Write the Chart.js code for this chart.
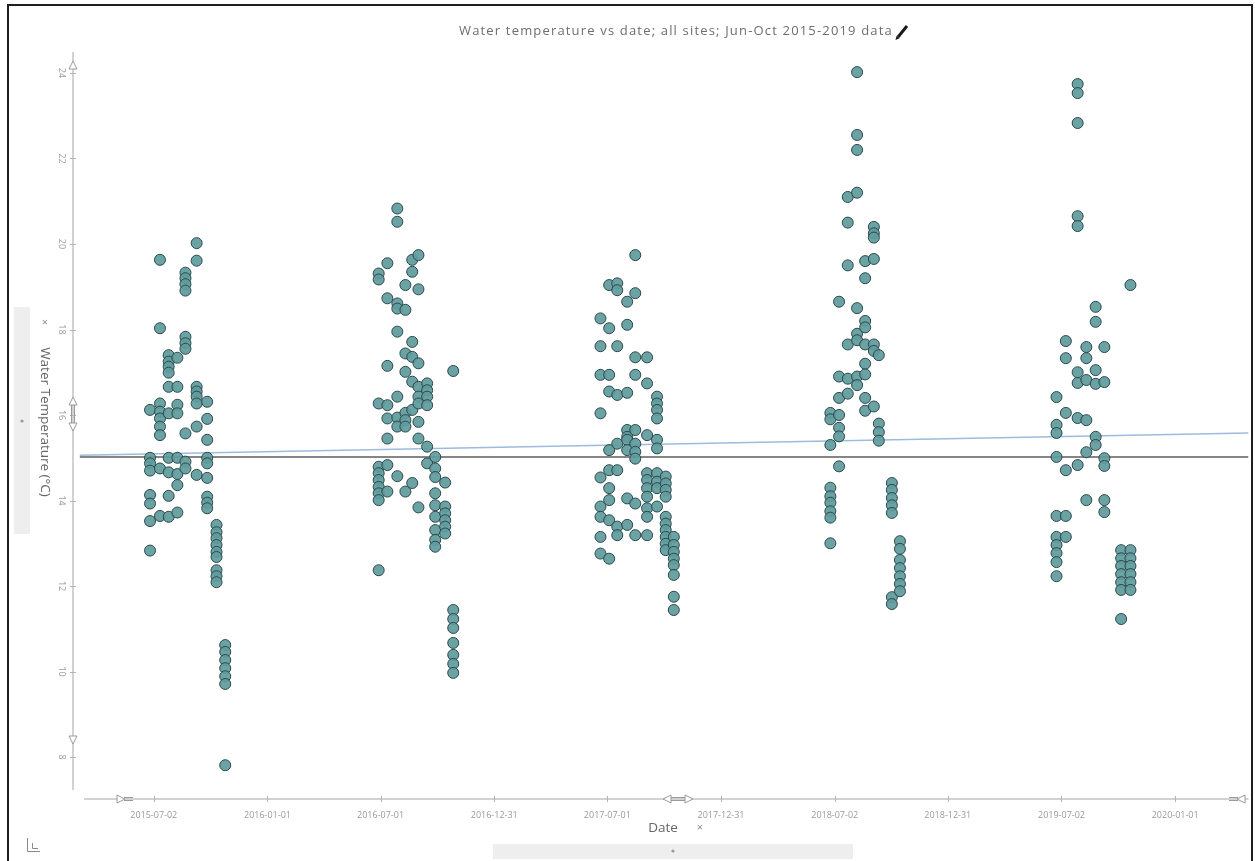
<!DOCTYPE html>
<html>
<head>
<meta charset="utf-8">
<script src="https://cdn.jsdelivr.net/npm/chart.js@4.4.1/dist/chart.umd.min.js"></script>
<style>
  html, body { margin: 0; padding: 0; background: #ffffff; }
  #wrap { position: relative; width: 1255px; height: 861px; }
  canvas { display: block; }
</style>
</head>
<body>
<div id="wrap"><canvas id="chart" width="1255" height="861"></canvas></div>
<script>
// Water temperature samples, grouped by sampling date (one inner list per date, all sites)
const sampleDates2015 = ['2015-06-26', '2015-07-12', '2015-07-26', '2015-08-09', '2015-08-22',
                         '2015-09-09', '2015-09-26', '2015-10-11', '2015-10-25'];
const temps2015 = [
  [16.12, 15.0, 14.87, 14.70, 14.13, 13.93, 13.52, 12.83],
  [19.63, 18.03, 16.27, 16.08, 15.92, 15.73, 15.53, 14.75, 13.64],
  [17.40, 17.25, 17.13, 16.99, 16.66, 16.04, 15.0, 14.66, 14.11, 13.62],
  [17.34, 16.66, 16.24, 16.04, 15.0, 14.62, 14.36, 13.72],
  [19.33, 19.20, 19.06, 18.91, 17.83, 17.68, 17.55, 15.57, 14.91, 14.75],
  [20.02, 19.61, 16.66, 16.55, 16.43, 16.27, 15.73, 14.60],
  [16.31, 15.91, 15.42, 15.0, 14.87, 14.53, 14.09, 13.95, 13.82],
  [13.43, 13.26, 13.12, 12.96, 12.80, 12.68, 12.37, 12.23, 12.09],
  [10.62, 10.46, 10.27, 10.08, 9.89, 9.71, 7.81]
];

const sampleDates2016 = ['2016-06-28', '2016-07-12', '2016-07-28', '2016-08-10', '2016-08-21',
                         '2016-08-31', '2016-09-14', '2016-09-27', '2016-10-13', '2016-10-26'];
const temps2016 = [
  [19.31, 19.17, 16.27, 14.79, 14.64, 14.48, 14.32, 14.17, 14.01, 12.37],
  [19.55, 18.73, 17.15, 16.23, 15.92, 15.45, 14.83, 14.21],
  [20.83, 20.52, 18.61, 18.49, 17.95, 16.43, 15.94, 15.73, 14.57],
  [19.04, 18.46, 17.44, 17.01, 16.05, 15.88, 15.73, 14.21],
  [19.63, 19.35, 17.71, 17.36, 16.78, 16.12, 14.41],
  [19.74, 18.94, 17.21, 16.66, 16.43, 16.27, 15.84, 15.45, 13.84],
  [16.74, 16.58, 16.43, 16.23, 15.26, 14.87],
  [15.02, 14.75, 14.55, 14.17, 13.89, 13.62, 13.31, 13.08, 12.92],
  [14.42, 13.86, 13.70, 13.54, 13.39, 13.23],
  [17.03, 11.44, 11.23, 11.02, 10.67, 10.39, 10.18, 9.97]
];

const sampleDates2017 = ['2017-06-20', '2017-07-04', '2017-07-17', '2017-08-02', '2017-08-15',
                         '2017-09-03', '2017-09-19', '2017-10-03', '2017-10-16'];
const temps2017 = [
  [18.26, 17.61, 16.94, 16.04, 14.54, 13.86, 13.62, 13.15, 12.76],
  [19.04, 18.03, 16.94, 16.55, 15.18, 14.71, 14.29, 14.01, 13.54, 12.64],
  [19.08, 18.92, 17.61, 16.47, 15.33, 14.71, 13.39, 13.19],
  [18.65, 18.11, 16.52, 15.65, 15.49, 15.42, 15.18, 14.05, 13.43],
  [19.74, 18.85, 17.35, 16.94, 15.65, 15.33, 15.14, 14.98, 13.93, 13.19],
  [17.35, 16.74, 15.53, 14.64, 14.48, 14.29, 14.09, 13.82, 13.62, 13.19],
  [16.43, 16.27, 16.12, 15.92, 15.42, 15.22, 14.64, 14.44, 14.29, 13.86],
  [14.56, 14.40, 14.25, 14.09, 13.62, 13.46, 13.31, 13.15, 12.99, 12.84],
  [13.15, 12.96, 12.80, 12.64, 12.49, 12.26, 11.75, 11.44]
];

const sampleDates2018 = ['2018-06-25', '2018-07-09', '2018-07-23', '2018-08-07', '2018-08-20',
                         '2018-09-03', '2018-09-11', '2018-10-02', '2018-10-15'];
const temps2018 = [
  [16.05, 15.90, 15.30, 14.30, 14.10, 13.95, 13.75, 13.60, 13.00],
  [18.65, 16.90, 16.40, 16.00, 15.70, 15.50, 14.80],
  [21.10, 20.50, 19.50, 17.65, 16.85, 16.50],
  [24.02, 22.55, 22.20, 21.20, 18.50, 17.90, 17.75, 16.90, 16.70],
  [19.60, 19.20, 18.20, 18.05, 17.65, 17.20, 16.95, 16.40, 16.10],
  [20.40, 20.25, 20.15, 19.65, 17.65, 17.50, 16.20],
  [17.40, 15.80, 15.60, 15.40],
  [14.41, 14.25, 14.06, 13.89, 13.71, 11.74, 11.58],
  [13.05, 12.87, 12.61, 12.42, 12.23, 12.05, 11.88]
];

const sampleDates2019 = ['2019-06-24', '2019-07-09', '2019-07-28', '2019-08-11', '2019-08-26',
                         '2019-09-09', '2019-10-06', '2019-10-21'];
const temps2019 = [
  [16.42, 15.77, 15.58, 15.02, 13.64, 13.15, 12.96, 12.77, 12.56, 12.23],
  [17.73, 17.33, 16.05, 14.71, 13.64, 13.15],
  [23.74, 23.53, 22.83, 20.65, 20.42, 17.00, 16.75, 15.93, 14.83],
  [17.59, 17.33, 16.82, 15.88, 15.13, 14.01],
  [18.53, 18.18, 17.05, 16.73, 15.49, 15.30],
  [17.59, 16.77, 14.99, 14.81, 14.01, 13.73],
  [12.84, 12.65, 12.47, 12.28, 12.09, 11.91, 11.23],
  [19.04, 12.84, 12.65, 12.47, 12.28, 12.09, 11.91]
];

// Reference lines: overall mean and linear trend
const meanLineDates = ['2015-03-05', '2020-04-28'];
const meanLineTemps = [15.02, 15.02];
const trendLineDates = ['2015-03-05', '2020-04-28'];
const trendLineTemps = [15.06, 15.58];

// Axis ticks and ranges
const tickDates = ['2015-07-02', '2016-01-01', '2016-07-01', '2016-12-31', '2017-07-01',
                   '2017-12-31', '2018-07-02', '2018-12-31', '2019-07-02', '2020-01-01'];
const tempTicks = [8, 10, 12, 14, 16, 18, 20, 22, 24];
const dateRange = ['2015-02-22', '2020-04-28'];
const tempRange = [7.02, 24.35];

const chartTitle = 'Water temperature vs date; all sites; Jun-Oct 2015-2019 data';
const xTitle = 'Date';
const yTitle = 'Water Temperature (°C)';

// ---- helpers ----
const DAY_MS = 86400000;
const toDay = s => Date.parse(s + 'T00:00:00Z') / DAY_MS;
const fmtDay = d => new Date(Math.round(d) * DAY_MS).toISOString().slice(0, 10);

function samplesToPoints(dates, temps) {
  const out = [];
  dates.forEach((d, i) => temps[i].forEach(t => out.push({ x: toDay(d), y: t })));
  return out;
}
const allPoints = [].concat(
  samplesToPoints(sampleDates2015, temps2015),
  samplesToPoints(sampleDates2016, temps2016),
  samplesToPoints(sampleDates2017, temps2017),
  samplesToPoints(sampleDates2018, temps2018),
  samplesToPoints(sampleDates2019, temps2019)
);
const linePoints = (dates, vals) => dates.map((d, i) => ({ x: toDay(d), y: vals[i] }));

// ---- decorations: axis lines, handles, rotated labels, titles, frame ----
const AXIS_COLOR = '#c4c4c4';
const HANDLE_COLOR = '#9a9a9a';

function tri(ctx, pts) {
  ctx.beginPath();
  ctx.moveTo(pts[0][0], pts[0][1]);
  ctx.lineTo(pts[1][0], pts[1][1]);
  ctx.lineTo(pts[2][0], pts[2][1]);
  ctx.closePath();
  ctx.fillStyle = '#ffffff';
  ctx.fill();
  ctx.stroke();
}

const decor = {
  id: 'decor',
  beforeDatasetsDraw(chart) {
    const ctx = chart.ctx;
    const area = chart.chartArea;
    const xs = chart.scales.x, ys = chart.scales.y;
    ctx.save();
    // axis lines
    ctx.strokeStyle = AXIS_COLOR;
    ctx.lineWidth = 1.5;
    ctx.beginPath();
    ctx.moveTo(area.left, area.top - 6);
    ctx.lineTo(area.left, area.bottom - 9);
    ctx.moveTo(area.left + 11, area.bottom);
    ctx.lineTo(area.right, area.bottom);
    ctx.stroke();
    // tick marks
    ctx.lineWidth = 1;
    ctx.strokeStyle = '#b5b5b5';
    ctx.beginPath();
    ys.ticks.forEach(t => {
      const py = Math.round(ys.getPixelForValue(t.value)) + 0.5;
      ctx.moveTo(area.left - 3, py);
      ctx.lineTo(area.left + 3, py);
    });
    xs.ticks.forEach(t => {
      const px = Math.round(xs.getPixelForValue(t.value)) + 0.5;
      ctx.moveTo(px, area.bottom - 3);
      ctx.lineTo(px, area.bottom + 3);
    });
    ctx.stroke();
    // y tick labels, rotated to read downwards
    ctx.fillStyle = '#9a9a9a';
    ctx.font = '9px "Open Sans"';
    ctx.textAlign = 'center';
    ctx.textBaseline = 'middle';
    ys.ticks.forEach(t => {
      const py = ys.getPixelForValue(t.value);
      ctx.save();
      ctx.translate(area.left - 11, py);
      ctx.rotate(Math.PI / 2);
      ctx.fillText(String(t.value), 0, 0);
      ctx.restore();
    });
    // range handles on the axes
    ctx.strokeStyle = HANDLE_COLOR;
    ctx.lineWidth = 1;
    const L = area.left, B = area.bottom;
    tri(ctx, [[L, area.top + 3], [L - 4, area.top + 11], [L + 4, area.top + 11]]);
    tri(ctx, [[L, 744], [L - 4, 736], [L + 4, 736]]);
    ctx.beginPath();
    ctx.moveTo(L - 1.5, 405); ctx.lineTo(L - 1.5, 423);
    ctx.moveTo(L + 1.5, 405); ctx.lineTo(L + 1.5, 423);
    ctx.stroke();
    tri(ctx, [[L, 397], [L - 4, 405], [L + 4, 405]]);
    tri(ctx, [[L, 431], [L - 4, 423], [L + 4, 423]]);
    // x handles
    ctx.beginPath();
    ctx.moveTo(124, B - 1.5); ctx.lineTo(133, B - 1.5);
    ctx.moveTo(124, B + 1.5); ctx.lineTo(133, B + 1.5);
    ctx.moveTo(671, B - 1.5); ctx.lineTo(685, B - 1.5);
    ctx.moveTo(671, B + 1.5); ctx.lineTo(685, B + 1.5);
    ctx.moveTo(1229, B - 1.5); ctx.lineTo(1238, B - 1.5);
    ctx.moveTo(1229, B + 1.5); ctx.lineTo(1238, B + 1.5);
    ctx.stroke();
    tri(ctx, [[125, B], [117, B - 4], [117, B + 4]]);
    tri(ctx, [[663, B], [671, B - 4], [671, B + 4]]);
    tri(ctx, [[693, B], [685, B - 4], [685, B + 4]]);
    tri(ctx, [[1237, B], [1245, B - 4], [1245, B + 4]]);
    ctx.restore();
  },
  afterDraw(chart) {
    const ctx = chart.ctx;
    ctx.save();
    // chart title with edit pencil
    ctx.fillStyle = '#6e6e6e';
    ctx.font = '13px "Open Sans"';
    ctx.textBaseline = 'middle';
    ctx.textAlign = 'left';
    const w = ctx.measureText(chartTitle).width;
    const targetW = 434;
    ctx.letterSpacing = Math.max(0, (targetW - w) / chartTitle.length).toFixed(2) + 'px';
    ctx.fillText(chartTitle, 459, 31);
    ctx.letterSpacing = '0px';
    ctx.strokeStyle = '#1a1a1a';
    ctx.lineWidth = 3;
    ctx.lineCap = 'butt';
    ctx.beginPath();
    ctx.moveTo(898, 37); ctx.lineTo(907, 26);
    ctx.stroke();
    ctx.fillStyle = '#1a1a1a';
    ctx.beginPath();
    ctx.moveTo(895.5, 40); ctx.lineTo(896.6, 35.8); ctx.lineTo(899.6, 38.3); ctx.closePath();
    ctx.fill();

    // side and bottom sliders
    ctx.fillStyle = '#eeeeee';
    ctx.fillRect(14, 307, 16, 227);
    ctx.fillRect(493, 844, 360, 15);
    ctx.fillStyle = '#9a9a9a';
    ctx.beginPath(); ctx.arc(22, 421, 1.6, 0, Math.PI * 2); ctx.fill();
    ctx.beginPath(); ctx.arc(673, 851, 1.6, 0, Math.PI * 2); ctx.fill();

    // y axis title, reading downwards
    ctx.fillStyle = '#666666';
    ctx.font = '13.5px "Open Sans"';
    ctx.textAlign = 'center';
    ctx.textBaseline = 'middle';
    ctx.save();
    ctx.translate(45, 422);
    ctx.rotate(Math.PI / 2);
    ctx.fillText(yTitle, 0, 0);
    ctx.restore();
    ctx.fillStyle = '#8a8a8a';
    ctx.font = '11px "Open Sans"';
    ctx.fillText('×', 45, 323);

    // x axis title
    ctx.fillStyle = '#666666';
    ctx.font = '13.5px "Open Sans"';
    ctx.fillText(xTitle, 663, 828);
    ctx.fillStyle = '#8a8a8a';
    ctx.font = '11px "Open Sans"';
    ctx.fillText('×', 700, 828);

    // axes-reset icon, bottom left
    ctx.strokeStyle = '#8a8a8a';
    ctx.lineWidth = 1;
    ctx.beginPath();
    ctx.moveTo(27.5, 838); ctx.lineTo(27.5, 851.5); ctx.lineTo(40, 851.5);
    ctx.moveTo(32.5, 843); ctx.lineTo(32.5, 848.5); ctx.lineTo(38, 848.5);
    ctx.stroke();

    // outer frame
    ctx.strokeStyle = '#1e1e1e';
    ctx.lineWidth = 2;
    ctx.strokeRect(8, 5, 1244, 900);
    ctx.restore();
  }
};

new Chart(document.getElementById('chart').getContext('2d'), {
  type: 'scatter',
  data: {
    datasets: [
      {
        label: 'Water temperature',
        data: allPoints,
        backgroundColor: 'rgba(96,156,158,0.93)',
        borderColor: '#2b4849',
        borderWidth: 1,
        pointRadius: 5.5,
        pointHoverRadius: 5.5,
        order: 0
      },
      {
        type: 'line',
        label: 'Linear trend',
        data: linePoints(trendLineDates, trendLineTemps),
        borderColor: '#9dbbdc',
        borderWidth: 1.5,
        pointRadius: 0,
        fill: false,
        order: 2
      },
      {
        type: 'line',
        label: 'Mean',
        data: linePoints(meanLineDates, meanLineTemps),
        borderColor: '#5c5c5c',
        borderWidth: 1.5,
        pointRadius: 0,
        fill: false,
        order: 1
      }
    ]
  },
  options: {
    responsive: false,
    animation: false,
    devicePixelRatio: 1,
    layout: { padding: { top: 58, left: 33, right: 0, bottom: 20 } },
    plugins: {
      legend: { display: false },
      tooltip: { enabled: false },
      title: { display: false }
    },
    scales: {
      x: {
        type: 'linear',
        min: toDay(dateRange[0]),
        max: toDay(dateRange[1]),
        afterBuildTicks: s => { s.ticks = tickDates.map(d => ({ value: toDay(d) })); },
        afterFit: s => { s.height = 42; },
        ticks: {
          callback: v => fmtDay(v),
          color: '#9a9a9a',
          font: { family: 'Open Sans', size: 9 },
          padding: 3,
          autoSkip: false,
          maxRotation: 0,
          minRotation: 0
        },
        grid: { display: false },
        border: { display: false }
      },
      y: {
        type: 'linear',
        min: tempRange[0],
        max: tempRange[1],
        afterBuildTicks: s => { s.ticks = tempTicks.map(v => ({ value: v })); },
        afterFit: s => { s.width = 40; },
        ticks: { display: false },
        grid: { display: false },
        border: { display: false }
      }
    }
  },
  plugins: [decor]
});
</script>
</body>
</html>
